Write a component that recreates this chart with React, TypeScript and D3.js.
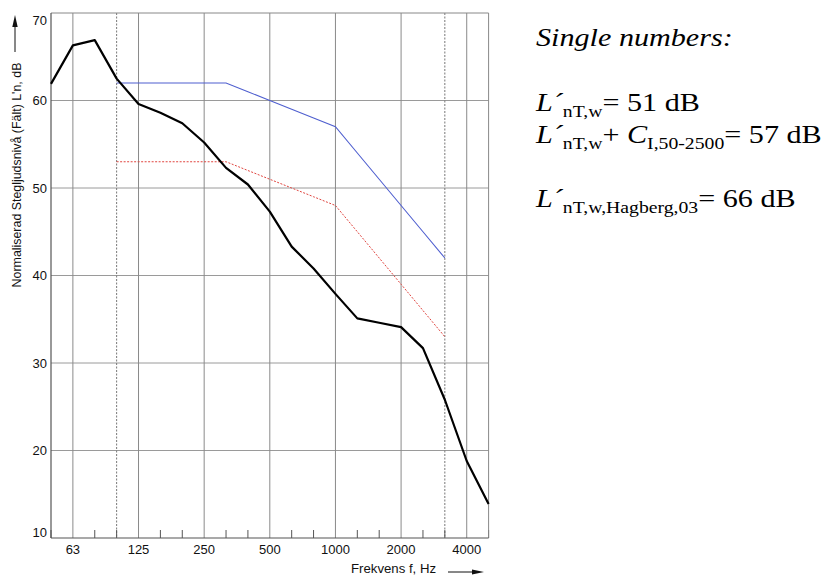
import React from "react";
import * as d3 from "d3";

const bands = [50, 63, 80, 100, 125, 160, 200, 250, 315, 400, 500, 630, 800, 1000, 1250, 1600, 2000, 2500, 3150, 4000, 5000];
const measured = [61.9, 66.3, 66.9, 62.5, 59.6, 58.6, 57.4, 55.2, 52.3, 50.4, 47.3, 43.3, 40.8, 37.9, 35.1, 34.6, 34.1, 31.7, 25.8, 18.8, 13.9];
const refBands = [100, 125, 160, 200, 250, 315, 400, 500, 630, 800, 1000, 1250, 1600, 2000, 2500, 3150];
const blueCurve = [62, 62, 62, 62, 62, 62, 61, 60, 59, 58, 57, 54, 51, 48, 45, 42];
const redCurve = [53, 53, 53, 53, 53, 53, 52, 51, 50, 49, 48, 45, 42, 39, 36, 33];
const xTickLabels = [63, 125, 250, 500, 1000, 2000, 4000];
const dottedBands = [100, 3150];
const yTicks = [10, 20, 30, 40, 50, 60, 70];

const W = 826, H = 575;
const L = 51, R = 488.6, T = 13, B = 538;

export default function App() {
  const x = d3.scalePoint<number>().domain(bands).range([L, R]);
  const y = d3.scaleLinear().domain([10, 70]).range([B, T]);
  const line = d3.line<[number, number]>().x(d => x(d[0])!).y(d => y(d[1]));
  const measPath = line(bands.map((b, i) => [b, measured[i]]))!;
  const bluePath = line(refBands.map((b, i) => [b, blueCurve[i]]))!;
  const redPath = line(refBands.map((b, i) => [b, redCurve[i]]))!;
  const sans = "'Liberation Sans', Arial, sans-serif";
  const serif = "'Liberation Serif', 'Times New Roman', serif";
  const subSize = 17;
  const mainSize = 26;
  const sub = (t: string) => <tspan fontSize={subSize} dy={6}>{t}</tspan>;
  return (
    <svg width={W} height={H} style={{ position: "absolute", left: 0, top: 0, background: "#fff" }}>
      {/* horizontal grid */}
      {yTicks.slice(1, -1).map(t => (
        <line key={"h" + t} x1={L} x2={R} y1={y(t)} y2={y(t)} stroke="#9a9a9a" strokeWidth={1} />
      ))}
      {/* vertical grid */}
      {xTickLabels.map(b => (
        <line key={"v" + b} x1={x(b)} x2={x(b)} y1={T} y2={B} stroke="#8a8a8a" strokeWidth={1} />
      ))}
      {dottedBands.map(b => (
        <line key={"d" + b} x1={x(b)} x2={x(b)} y1={T} y2={B} stroke="#777" strokeWidth={1} strokeDasharray="2,1.5" />
      ))}
      {/* minor ticks */}
      {bands.filter(b => !xTickLabels.includes(b)).map(b => (
        <line key={"t" + b} x1={x(b)} x2={x(b)} y1={B - 8} y2={B} stroke="#555" strokeWidth={1} />
      ))}
      {/* frame */}
      <line x1={L} x2={R} y1={T} y2={T} stroke="#888" />
      <line x1={R} x2={R} y1={T} y2={B} stroke="#888" />
      <line x1={L} x2={L} y1={T} y2={B} stroke="#555" strokeWidth={1.2} />
      <line x1={L} x2={R} y1={B} y2={B} stroke="#555" strokeWidth={1.2} />
      {/* curves */}
      <path d={redPath} fill="none" stroke="#e0453f" strokeWidth={1} strokeDasharray="2,1.5" />
      <path d={bluePath} fill="none" stroke="#4f5fcf" strokeWidth={1.1} />
      <path d={measPath} fill="none" stroke="#000" strokeWidth={2.2} strokeLinejoin="round" />
      {/* y tick labels */}
      {yTicks.map(t => {
        const yy = Math.min(Math.max(y(t), T + 7), B - 6);
        return (
          <text key={"yl" + t} x={47} y={yy} dy="0.36em" textAnchor="end" fontFamily={sans} fontSize={13} fill="#111">{t}</text>
        );
      })}
      {/* x tick labels */}
      {xTickLabels.map(b => (
        <text key={"xl" + b} x={x(b)} y={554} textAnchor="middle" fontFamily={sans} fontSize={13} fill="#111">{b}</text>
      ))}
      {/* axis titles */}
      <text transform="translate(21,175) rotate(-90)" textAnchor="middle" fontFamily={sans} fontSize={12.4} fill="#111">
        Normaliserad Stegljudsnivå (Fält) L'n, dB
      </text>
      <line x1={15} x2={15} y1={52} y2={24} stroke="#111" strokeWidth={1} />
      <polygon points="15,15 12.3,27 17.7,27" fill="#111" />
      <text x={351} y={573} fontFamily={sans} fontSize={13.2} fill="#111">Frekvens f, Hz</text>
      <line x1={448} x2={474} y1={572} y2={572} stroke="#111" strokeWidth={1} />
      <polygon points="484,572 472,569.5 472,574.5" fill="#111" />
      {/* single numbers */}
      <g fontFamily={serif} fontSize={mainSize} fill="#000" transform="translate(536,0) scale(1.16,1)">
        <text x={0} y={46} fontStyle="italic">Single numbers:</text>
        <text x={0} y={111}>
          <tspan fontStyle="italic">L´</tspan>{sub("nT,w")}<tspan dy={-6}>= 51 dB</tspan>
        </text>
        <text x={0} y={143}>
          <tspan fontStyle="italic">L´</tspan>{sub("nT,w")}<tspan dy={-6}>+ </tspan><tspan fontStyle="italic">C</tspan>{sub("I,50-2500")}<tspan dy={-6}>= 57 dB</tspan>
        </text>
        <text x={0} y={207}>
          <tspan fontStyle="italic">L´</tspan>{sub("nT,w,Hagberg,03")}<tspan dy={-6}>= 66 dB</tspan>
        </text>
      </g>
    </svg>
  );
}
